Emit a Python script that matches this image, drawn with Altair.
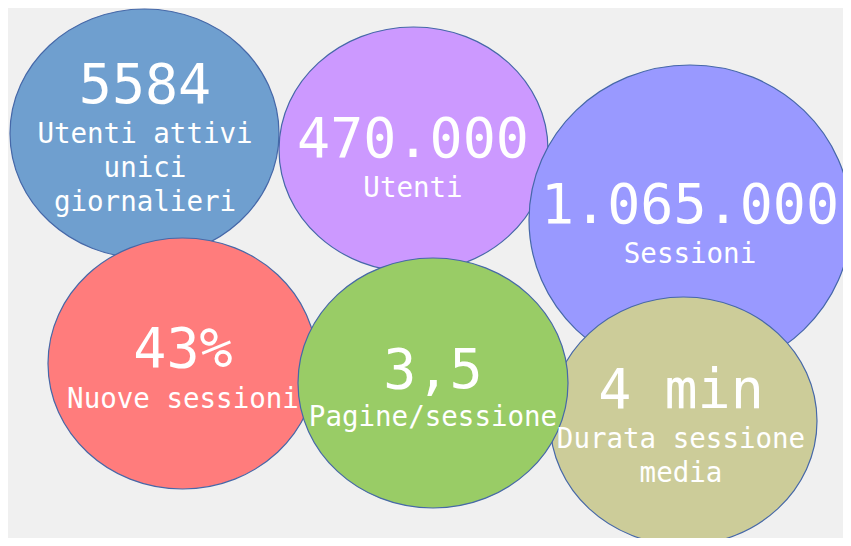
import altair as alt
import pandas as pd

# KPI bubbles (drawing order = list order)
values = ["5584", "470.000", "1.065.000", "43%", "4 min", "3,5"]
labels = ["Utenti attivi\nunici\ngiornalieri", "Utenti", "Sessioni",
          "Nuove sessioni", "Durata sessione\nmedia", "Pagine/sessione"]
colors = ["#6f9fcf", "#cc99ff", "#9999ff", "#ff7c7c", "#cccc99", "#99cc66"]
# ellipse centre / radii (pixel units of the picture)
cx = [144.5, 413.5, 690, 182.5, 683.5, 433]
cy = [133.5, 149.5, 220, 363.5, 421, 383]
rx = [134.5, 134.5, 161, 134.5, 133.5, 135]
ry = [124.5, 122.5, 155, 125.5, 124, 125]
# text positions
tx = [145, 413, 690, 183, 681, 433]
ty_value = [103, 157, 223, 367, 408, 388]
ty_label = [143, 197, 263, 408, 448, 426]

K = 0.5523


def ellipse_path(a, b):
    R = max(a, b)
    a, b = a / R, b / R
    ka, kb = K * a, K * b
    return (f"M {a} 0 C {a} {kb} {ka} {b} 0 {b} "
            f"C {-ka} {b} {-a} {kb} {-a} 0 "
            f"C {-a} {-kb} {-ka} {-b} 0 {-b} "
            f"C {ka} {-b} {a} {-kb} {a} 0 Z")


df = pd.DataFrame({
    "value": values, "label": labels, "fill": colors,
    "cx": cx, "cy": cy, "tx": tx, "tyv": ty_value, "tyl": ty_label,
    "shape": [ellipse_path(a, b) for a, b in zip(rx, ry)],
    "sz": [(2 * max(a, b)) ** 2 for a, b in zip(rx, ry)],
    "order": list(range(len(values))),
})

W, H = 835, 530
xs = alt.Scale(domain=[8, 8 + W], range=[0, W])
ys = alt.Scale(domain=[8, 8 + H], reverse=True)

base = alt.Chart(df)

bubbles = base.mark_point(filled=True, opacity=1, stroke="#4668a8", strokeWidth=1.2).encode(
    x=alt.X("cx:Q", scale=xs, axis=None),
    y=alt.Y("cy:Q", scale=ys, axis=None),
    shape=alt.Shape("shape:N", scale=None),
    size=alt.Size("sz:Q", scale=None),
    fill=alt.Fill("fill:N", scale=None),
    order=alt.Order("order:Q"),
)

big = base.mark_text(font="DejaVu Sans Mono", fontSize=55, color="white",
                     align="center", baseline="alphabetic").encode(
    x=alt.X("tx:Q", scale=xs, axis=None),
    y=alt.Y("tyv:Q", scale=ys, axis=None),
    text="value:N",
)

small = base.mark_text(font="DejaVu Sans Mono", fontSize=27.5, color="white",
                       align="center", baseline="alphabetic",
                       lineBreak="\n", lineHeight=34).encode(
    x=alt.X("tx:Q", scale=xs, axis=None),
    y=alt.Y("tyl:Q", scale=ys, axis=None),
    text="label:N",
)

chart = alt.layer(bubbles, big, small).properties(
    width=W, height=H, padding=0, background="#f0f0f0",
    autosize=alt.AutoSizeParams(type="none"),
).configure_view(stroke=None)

chart.save("out.html", embed_options={"renderer": "svg", "actions": False})
